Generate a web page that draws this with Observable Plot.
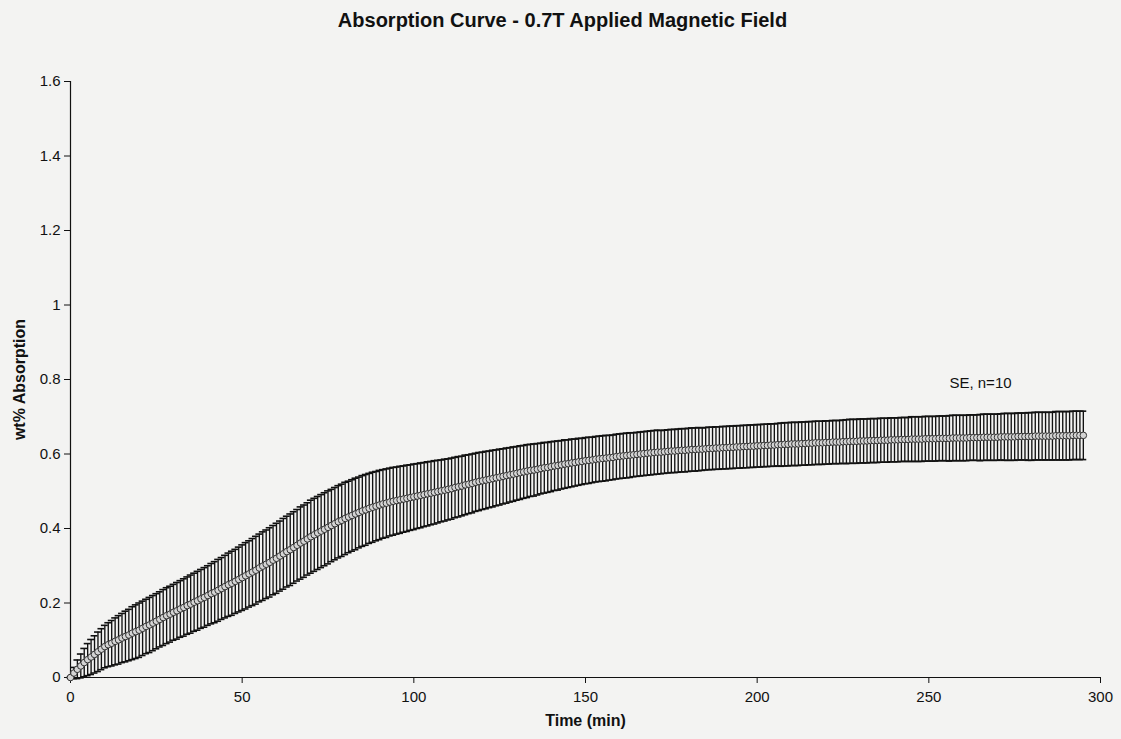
<!DOCTYPE html>
<html><head><meta charset="utf-8">
<script src="https://cdn.jsdelivr.net/npm/d3@7"></script>
<script src="https://cdn.jsdelivr.net/npm/@observablehq/plot@0.6"></script>
<style>
body{margin:0;background:#f3f3f2;font-family:"Liberation Sans",Arial,sans-serif;color:#111;}
#title{height:38px;line-height:40px;text-align:center;font-weight:bold;font-size:20px;padding-left:4px;}
#chart svg{display:block;}
</style></head><body>
<div id="title">Absorption Curve - 0.7T Applied Magnetic Field</div>
<div id="chart"></div>
<script>
// Mean wt% absorption, one reading per minute starting at t = 0 min
const meanAbsorption = [
0,0.012,0.022,0.031,0.040,0.048,0.055,0.062,0.069,0.076,0.083,
0.088,0.092,0.097,0.101,0.106,0.110,0.114,0.119,0.123,0.127,
0.132,0.137,0.141,0.146,0.151,0.156,0.161,0.166,0.170,0.175,
0.179,0.184,0.188,0.193,0.197,0.202,0.206,0.211,0.215,0.220,
0.225,0.229,0.234,0.239,0.244,0.249,0.253,0.258,0.263,0.268,
0.273,0.278,0.283,0.288,0.294,0.299,0.304,0.309,0.315,0.320,
0.326,0.332,0.338,0.343,0.349,0.355,0.361,0.366,0.372,0.378,
0.383,0.388,0.393,0.398,0.403,0.408,0.413,0.418,0.422,0.427,
0.431,0.435,0.439,0.443,0.447,0.450,0.454,0.457,0.460,0.463,
0.466,0.468,0.471,0.473,0.475,0.477,0.479,0.481,0.483,0.485,
0.487,0.489,0.491,0.493,0.495,0.497,0.499,0.501,0.503,0.505,
0.507,0.510,0.512,0.514,0.517,0.519,0.521,0.524,0.526,0.528,
0.530,0.532,0.534,0.536,0.538,0.540,0.542,0.544,0.546,0.548,
0.550,0.552,0.554,0.556,0.557,0.559,0.561,0.563,0.564,0.566,
0.568,0.569,0.571,0.573,0.574,0.576,0.577,0.579,0.580,0.582,
0.583,0.584,0.586,0.587,0.588,0.589,0.590,0.591,0.593,0.594,
0.595,0.596,0.597,0.598,0.599,0.600,0.601,0.602,0.603,0.604,
0.605,0.605,0.606,0.607,0.608,0.608,0.609,0.610,0.610,0.611,
0.612,0.612,0.613,0.613,0.614,0.615,0.615,0.616,0.616,0.617,
0.617,0.618,0.618,0.619,0.619,0.620,0.620,0.621,0.621,0.622,
0.622,0.623,0.623,0.624,0.624,0.625,0.625,0.626,0.626,0.627,
0.627,0.627,0.628,0.628,0.629,0.629,0.630,0.630,0.630,0.631,
0.631,0.632,0.632,0.632,0.633,0.633,0.634,0.634,0.634,0.635,
0.635,0.635,0.636,0.636,0.636,0.637,0.637,0.637,0.638,0.638,
0.638,0.639,0.639,0.639,0.640,0.640,0.640,0.640,0.641,0.641,
0.641,0.641,0.642,0.642,0.642,0.642,0.643,0.643,0.643,0.643,
0.643,0.644,0.644,0.644,0.644,0.645,0.645,0.645,0.645,0.645,
0.646,0.646,0.646,0.646,0.646,0.647,0.647,0.647,0.647,0.647,
0.648,0.648,0.648,0.648,0.648,0.648,0.649,0.649,0.649,0.649,
0.649,0.650,0.650,0.650,0.650
];
// Standard error (n = 10) for each reading
const standardError = [
0,0.015,0.025,0.032,0.038,0.043,0.047,0.050,0.053,0.055,0.057,
0.059,0.061,0.063,0.065,0.066,0.068,0.069,0.071,0.072,0.073,
0.073,0.073,0.074,0.074,0.074,0.074,0.075,0.075,0.075,0.075,
0.076,0.076,0.077,0.077,0.078,0.078,0.079,0.079,0.080,0.080,
0.081,0.082,0.083,0.083,0.084,0.085,0.086,0.086,0.087,0.088,
0.089,0.089,0.090,0.091,0.091,0.092,0.092,0.093,0.093,0.094,
0.094,0.095,0.095,0.096,0.096,0.096,0.097,0.097,0.097,0.098,
0.098,0.098,0.098,0.098,0.098,0.097,0.097,0.097,0.097,0.097,
0.096,0.096,0.096,0.095,0.095,0.095,0.094,0.094,0.093,0.093,
0.092,0.092,0.091,0.091,0.090,0.090,0.089,0.089,0.088,0.088,
0.087,0.087,0.086,0.086,0.085,0.085,0.084,0.083,0.083,0.082,
0.082,0.081,0.081,0.080,0.080,0.079,0.079,0.078,0.078,0.077,
0.077,0.076,0.076,0.075,0.075,0.074,0.074,0.073,0.073,0.072,
0.072,0.071,0.071,0.070,0.070,0.069,0.068,0.068,0.067,0.067,
0.066,0.066,0.065,0.065,0.064,0.064,0.063,0.063,0.062,0.062,
0.062,0.061,0.061,0.061,0.061,0.061,0.060,0.060,0.060,0.060,
0.060,0.060,0.060,0.059,0.059,0.059,0.059,0.059,0.059,0.059,
0.059,0.058,0.058,0.058,0.058,0.058,0.058,0.058,0.058,0.058,
0.058,0.058,0.058,0.057,0.057,0.057,0.057,0.057,0.057,0.057,
0.057,0.057,0.057,0.057,0.057,0.057,0.057,0.057,0.057,0.057,
0.057,0.057,0.057,0.057,0.057,0.057,0.058,0.058,0.058,0.058,
0.058,0.058,0.058,0.058,0.058,0.058,0.058,0.058,0.058,0.058,
0.058,0.058,0.058,0.058,0.058,0.059,0.059,0.059,0.059,0.059,
0.059,0.059,0.059,0.059,0.059,0.059,0.059,0.059,0.059,0.059,
0.059,0.059,0.059,0.059,0.060,0.060,0.060,0.060,0.060,0.060,
0.060,0.060,0.060,0.060,0.060,0.061,0.061,0.061,0.061,0.061,
0.061,0.061,0.061,0.061,0.062,0.062,0.062,0.062,0.062,0.062,
0.062,0.063,0.063,0.063,0.063,0.063,0.063,0.063,0.064,0.064,
0.064,0.064,0.064,0.064,0.064,0.064,0.065,0.065,0.065,0.065,
0.065,0.065,0.065,0.065,0.065
];
const xTicks = [0, 50, 100, 150, 200, 250, 300];
const yTicks = [0, 0.2, 0.4, 0.6, 0.8, 1, 1.2, 1.4, 1.6];
const xAxisTitle = ["Time (min)"];
const yAxisTitle = ["wt% Absorption"];
const noteText = ["SE, n=10"];

const rows = meanAbsorption.map((m, i) => {
  const se = standardError[i] ?? 0;
  return {time: i, mean: m, lo: m - se, hi: m + se};
});
const capHalf = 1; // minutes

const chart = Plot.plot({
  width: 1121,
  height: 701,
  marginTop: 43,
  marginBottom: 62,
  marginLeft: 70,
  marginRight: 21,
  style: {background: "transparent", fontSize: "15px", fontFamily: "'Liberation Sans', Arial, sans-serif", color: "#111"},
  x: {domain: [0, 300], ticks: xTicks, tickSize: 6, tickPadding: 8, label: null},
  y: {domain: [0, 1.6], ticks: yTicks, tickSize: 6, tickPadding: 4, tickFormat: d => String(Math.round(d * 10) / 10), label: null},
  marks: [
    Plot.ruleY([0], {stroke: "#111", strokeWidth: 1.2}),
    Plot.ruleX([0], {stroke: "#111", strokeWidth: 1.2}),
    Plot.ruleX(rows, {x: "time", y1: "lo", y2: "hi", stroke: "#111", strokeWidth: 1.35}),
    Plot.ruleY(rows, {y: "hi", x1: d => d.time - capHalf, x2: d => d.time + capHalf, stroke: "#111", strokeWidth: 1.6}),
    Plot.ruleY(rows, {y: "lo", x1: d => d.time - capHalf, x2: d => d.time + capHalf, stroke: "#111", strokeWidth: 1.6}),
    Plot.dot(rows, {x: "time", y: "mean", r: 3.3, stroke: "#333", strokeWidth: 1, fill: "#d4d4d4"}),
    Plot.text(noteText, {x: 256, y: 0.79, text: d => d, textAnchor: "start", fontSize: 15, fill: "#111"}),
    Plot.text(xAxisTitle, {frameAnchor: "bottom", dy: 48, textAnchor: "middle", text: d => d, fontSize: 16, fontWeight: "bold", fill: "#111"}),
    Plot.text(yAxisTitle, {frameAnchor: "left", dx: -51, rotate: -90, textAnchor: "middle", text: d => d, fontSize: 16, fontWeight: "bold", fill: "#111"})
  ]
});
document.getElementById("chart").appendChild(chart);
</script>
</body></html>
